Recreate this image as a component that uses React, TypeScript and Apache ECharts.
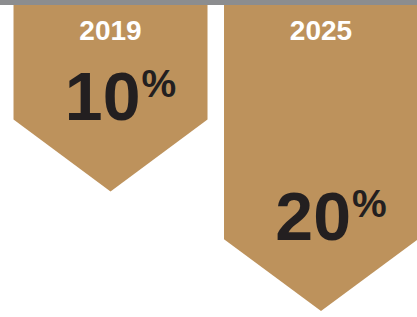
import React, { useEffect, useRef } from "react";
import * as echarts from "echarts";

const years = ["2019", "2025"];
const shares = [10, 20];
const unit = "%";

const TAN = "#BD925C";
const DARK = "#231F20";
const FONT = "'Liberation Sans', Arial, Helvetica, sans-serif";

export default function App() {
  const ref = useRef<HTMLDivElement>(null);
  useEffect(() => {
    document.body.style.margin = "0";
    const chart = echarts.init(ref.current!, null, { renderer: "svg" });
    const data = years.map((y, i) => [i, shares[i]]);
    chart.setOption({
      animation: false,
      backgroundColor: "#ffffff",
      grid: { left: 0, top: 0, right: 0, bottom: 0 },
      xAxis: { type: "value", min: -0.525, max: 1.456, show: false },
      yAxis: { type: "value", min: 0, max: 26.5, inverse: true, show: false },
      graphic: [
        { type: "rect", left: 0, top: 0, shape: { width: 417, height: 5 }, style: { fill: "#8C8D8F" }, z: 100 },
      ],
      series: [
        {
          type: "custom",
          data,
          clip: false,
          renderItem: (params: any, api: any) => {
            const idx = api.value(0);
            const v = api.value(1);
            const top = api.coord([idx, 0]);
            const bot = api.coord([idx, v]);
            const cx = top[0];
            const half = 97;
            const tip = bot[1] + half * 0.74;
            return {
              type: "group",
              children: [
                {
                  type: "polygon",
                  shape: {
                    points: [
                      [cx - half, top[1]],
                      [cx + half, top[1]],
                      [cx + half, bot[1]],
                      [cx, tip],
                      [cx - half, bot[1]],
                    ],
                  },
                  style: { fill: TAN },
                },
                {
                  type: "text",
                  x: cx,
                  y: 30,
                  style: {
                    text: years[idx],
                    fill: "#ffffff",
                    font: `bold 28px ${FONT}`,
                    align: "center",
                    verticalAlign: "middle",
                  },
                },
                {
                  type: "text",
                  x: cx + 30,
                  y: tip - 95,
                  style: {
                    text: String(v),
                    fill: DARK,
                    font: `bold 68px ${FONT}`,
                    align: "right",
                    verticalAlign: "middle",
                  },
                },
                {
                  type: "text",
                  x: cx + 31,
                  y: tip - 108,
                  style: {
                    text: unit,
                    fill: DARK,
                    font: `bold 39px ${FONT}`,
                    align: "left",
                    verticalAlign: "middle",
                  },
                },
              ],
            };
          },
        },
      ],
    });
    return () => chart.dispose();
  }, []);
  return <div ref={ref} style={{ position: "fixed", left: 0, top: 0, width: 417, height: 317 }} />;
}
